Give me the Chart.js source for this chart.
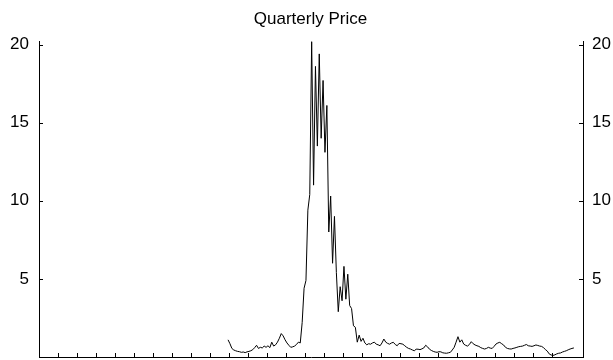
<!DOCTYPE html>
<html>
<head>
<meta charset="utf-8">
<title>Quarterly Price</title>
<script src="https://cdn.jsdelivr.net/npm/chart.js@4.4.0/dist/chart.umd.min.js"></script>
<style>
  html, body { margin: 0; padding: 0; background: #fff; }
  #wrap { width: 613px; height: 360px; }
</style>
</head>
<body>
<div id="wrap"><canvas id="priceChart"></canvas></div>
<script>
'use strict';

// time axis (decimal years), one price every 0.1 year
var axisStart = 1970;
var axisEnd = 1998.63;
var firstYear = 1979.95;
var yearStep = 0.1;

var prices = [
    1.10, 0.85, 0.55, 0.45, 0.40, 0.36, 0.34, 0.30, 0.32, 0.28,
    0.33, 0.36, 0.40, 0.47, 0.60, 0.75, 0.55, 0.62, 0.58, 0.70,
    0.62, 0.72, 0.60, 0.95, 0.70, 0.78, 0.95, 1.20, 1.50, 1.35,
    1.10, 0.90, 0.75, 0.62, 0.65, 0.70, 0.80, 0.95, 0.90, 2.20,
    4.40, 4.90, 9.40, 10.40, 20.20, 11.00, 18.60, 13.50, 19.40, 14.00,
    17.70, 13.10, 16.10, 8.00, 10.30, 6.00, 9.00, 5.40, 2.90, 4.50,
    3.60, 5.80, 3.70, 5.30, 3.30, 3.10, 2.00, 1.90, 0.95, 1.40,
    1.00, 1.20, 0.90, 0.78, 0.85, 0.82, 0.90, 0.95, 0.82, 0.78,
    0.72, 0.90, 1.15, 0.95, 0.87, 0.82, 0.90, 0.94, 0.80, 0.72,
    0.87, 0.85, 0.82, 0.72, 0.62, 0.55, 0.51, 0.45, 0.40, 0.50,
    0.50, 0.47, 0.52, 0.58, 0.75, 0.65, 0.50, 0.42, 0.36, 0.32,
    0.30, 0.34, 0.33, 0.27, 0.25, 0.24, 0.27, 0.30, 0.45, 0.62,
    0.95, 1.30, 0.95, 1.10, 0.83, 0.75, 0.70, 0.80, 0.98, 0.85,
    0.77, 0.72, 0.68, 0.60, 0.55, 0.51, 0.55, 0.62, 0.57, 0.55,
    0.68, 0.83, 0.90, 0.94, 0.85, 0.77, 0.62, 0.55, 0.52, 0.51,
    0.55, 0.58, 0.62, 0.66, 0.68, 0.70, 0.75, 0.80, 0.72, 0.70,
    0.68, 0.72, 0.77, 0.74, 0.70, 0.68, 0.60, 0.48, 0.38, 0.20,
    0.13, 0.10, 0.14, 0.20, 0.24, 0.26, 0.32, 0.36, 0.40, 0.46,
    0.51, 0.55, 0.58
];

var priceTicks = [5, 10, 15, 20];
var priceMax = 20.2;

var points = prices.map(function(v, i) {
    return { x: firstYear + i * yearStep, y: v };
});

/***** small tick marks pointing into the plot *****/
var innerTicks = {
    id: 'innerTicks',
    afterDraw: function(chart) {
        var ctx = chart.ctx, area = chart.chartArea;
        var sx = chart.scales.x, sy = chart.scales.y, sy2 = chart.scales.y2;
        ctx.save();
        ctx.strokeStyle = '#000';
        ctx.lineWidth = 1;
        ctx.beginPath();
        sx.ticks.forEach(function(t) {
            var px = Math.round(sx.getPixelForValue(t.value)) + 0.5;
            ctx.moveTo(px, area.bottom);
            ctx.lineTo(px, area.bottom - 4);
        });
        sy.ticks.forEach(function(t) {
            var py = Math.round(sy.getPixelForValue(t.value)) + 0.5;
            ctx.moveTo(area.left, py);
            ctx.lineTo(area.left + 4, py);
        });
        sy2.ticks.forEach(function(t) {
            var py = Math.round(sy2.getPixelForValue(t.value)) + 0.5;
            ctx.moveTo(area.right, py);
            ctx.lineTo(area.right - 4, py);
        });
        ctx.stroke();
        ctx.restore();
    }
};

var tickFont = { family: 'Liberation Sans, Arial, sans-serif', size: 17 };

var yAxis = function(pos, pad, w) {
    return {
        type: 'linear',
        position: pos,
        min: 0,
        max: priceMax,
        afterBuildTicks: function(scale) {
            scale.ticks = priceTicks.map(function(v) { return { value: v }; });
        },
        afterFit: function(scale) {
            scale.width = w;
            scale.paddingTop = 0;
            scale.paddingBottom = 0;
        },
        grid: { display: true, drawOnChartArea: false, drawTicks: false },
        border: { display: true, color: '#000', width: 1 },
        ticks: { color: '#000', font: tickFont, padding: pad }
    };
};

var ctx = document.getElementById('priceChart').getContext('2d');
var chart = new Chart(ctx, {
    type: 'line',
    data: {
        datasets: [{
            label: 'Price',
            data: points,
            borderColor: '#000',
            borderWidth: 1,
            pointRadius: 0,
            tension: 0,
            fill: false
        }]
    },
    options: {
        responsive: true,
        maintainAspectRatio: false,
        animation: false,
        layout: { padding: { top: 0, right: 2, bottom: 3, left: 10 } },
        plugins: {
            legend: { display: false },
            tooltip: { enabled: false },
            title: {
                display: true,
                text: 'Quarterly Price',
                color: '#000',
                font: { family: 'Liberation Sans, Arial, sans-serif', size: 17, weight: 'normal' },
                padding: { top: 9, bottom: 12 }
            }
        },
        scales: {
            x: {
                type: 'linear',
                min: axisStart,
                max: axisEnd,
                afterBuildTicks: function(scale) {
                    scale.ticks = scale.ticks.filter(function(t) { return t.value % 1 === 0; });
                },
                afterFit: function(scale) {
                    scale.height = 0;
                    scale.paddingLeft = 0;
                    scale.paddingRight = 0;
                },
                grid: { display: true, drawOnChartArea: false, drawTicks: false },
                border: { display: true, color: '#000', width: 1 },
                ticks: { display: false, stepSize: 1 }
            },
            y: yAxis('left', 10, 29),
            y2: yAxis('right', 9, 28)
        }
    },
    plugins: [innerTicks]
});
</script>
</body>
</html>
